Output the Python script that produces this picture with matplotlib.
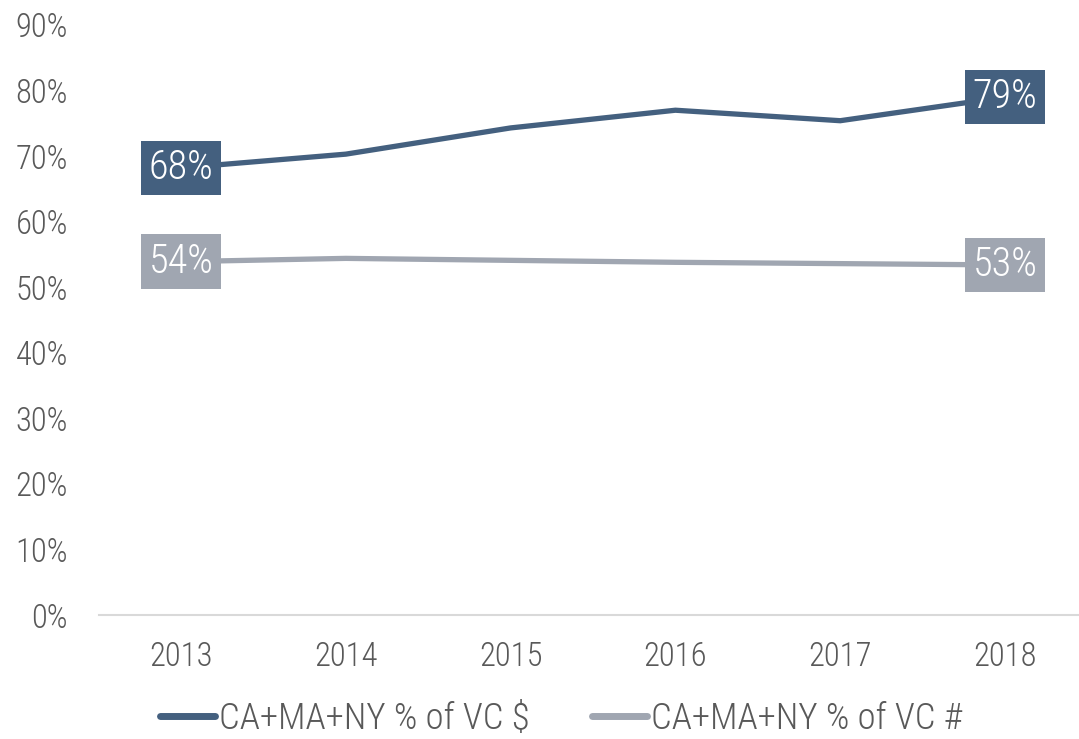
import matplotlib.pyplot as plt

years = ["2013", "2014", "2015", "2016", "2017", "2018"]
vc_dollars = [68.2, 70.3, 74.3, 77.0, 75.4, 79.0]
vc_count = [53.9, 54.4, 54.1, 53.8, 53.6, 53.4]
series_names = ["CA+MA+NY % of VC $", "CA+MA+NY % of VC #"]
yticks = [0, 10, 20, 30, 40, 50, 60, 70, 80, 90]

dark = "#44607F"
gray = "#A0A6B1"
txt = "#595959"

plt.rcParams['font.family'] = ['Roboto Condensed', 'Liberation Sans Narrow', 'Roboto', 'DejaVu Sans']
plt.rcParams['font.weight'] = 'light'

W, H = 1079, 739
fig = plt.figure(figsize=(W / 100, H / 100), dpi=100)
ax = fig.add_axes([98.6 / W, (H - 615) / H, (1087.4 - 98.6) / W, 590 / H])

x = list(range(len(years)))
ax.plot(x, vc_dollars, color=dark, lw=3.8, solid_capstyle='butt', solid_joinstyle='miter',
        label=series_names[0], zorder=3)
ax.plot(x, vc_count, color=gray, lw=3.8, solid_capstyle='butt', solid_joinstyle='miter',
        label=series_names[1], zorder=3)

for i in [0, len(years) - 1]:
    for vals, col in [(vc_dollars, dark), (vc_count, gray)]:
        ax.text(x[i], vals[i], f"{round(vals[i]):d}%", ha='center', va='center',
                fontsize=29, color='white', zorder=5,
                bbox=dict(boxstyle='square,pad=0.2', fc=col, ec='none'))

ax.set_xlim(-0.5, len(years) - 0.5)
ax.set_ylim(0, 90)
ax.set_yticks(yticks)
ax.set_yticklabels([f"{v}%" for v in yticks])
ax.set_xticks(x)
ax.set_xticklabels(years)
ax.tick_params(axis='both', length=0, labelsize=23.5, labelcolor=txt)
ax.tick_params(axis='y', pad=22)
ax.tick_params(axis='x', pad=19)
for s in ['top', 'right', 'left']:
    ax.spines[s].set_visible(False)
ax.spines['bottom'].set_color('#D9D9D9')
ax.spines['bottom'].set_linewidth(1.5)

leg = fig.legend(loc='center', bbox_to_anchor=(0.52, (H - 719) / H), ncol=2, frameon=False,
                 fontsize=26.5, handlelength=1.5, handletextpad=0.1, columnspacing=1.7,
                 labelcolor=txt, borderpad=0.1)
for h in leg.get_lines():
    h.set_linewidth(5)
    h.set_solid_capstyle('round')

fig.savefig("out.png", dpi=100)
